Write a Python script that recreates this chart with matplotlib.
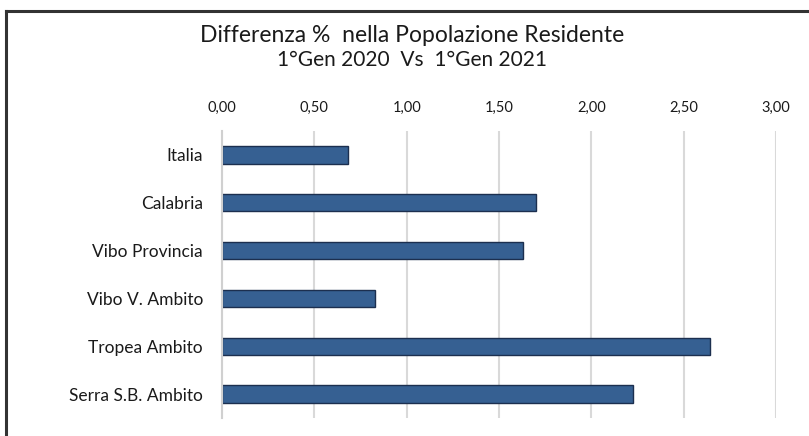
import matplotlib
matplotlib.use("Agg")
import matplotlib.pyplot as plt
from matplotlib.lines import Line2D

categories = ["Italia", "Calabria", "Vibo Provincia", "Vibo V. Ambito",
              "Tropea Ambito", "Serra S.B. Ambito"]
values = [0.68, 1.70, 1.63, 0.83, 2.64, 2.225]
xticks = [0.0, 0.5, 1.0, 1.5, 2.0, 2.5, 3.0]
xtick_labels = ["0,00", "0,50", "1,00", "1,50", "2,00", "2,50", "3,00"]
title_lines = ["Differenza %  nella Popolazione Residente", "1°Gen 2020  Vs  1°Gen 2021"]

plt.rcParams['font.family'] = ['Lato', 'DejaVu Sans']

W, H = 809, 436
fig = plt.figure(figsize=(W / 100, H / 100), dpi=100)
fig.patch.set_facecolor("white")

ax = fig.add_axes([222 / W, 1 - 418 / H, (776 - 222) / W, (418 - 131) / H])
ypos = list(range(len(categories)))
ax.barh(ypos, values, height=0.365, color="#366092", edgecolor="#1c2f4f", linewidth=1.0, zorder=3)
ax.set_ylim(len(categories) - 0.5, -0.5)
ax.set_xlim(0, 3.0)
ax.set_yticks(ypos)
ax.set_yticklabels(categories, fontsize=12.5, color="#1a1a1a")
ax.set_xticks(xticks)
ax.set_xticklabels(xtick_labels, fontsize=10.5, color="#1a1a1a")
ax.xaxis.tick_top()
ax.tick_params(axis="x", length=0, pad=11.5)
ax.tick_params(axis="y", length=0, pad=13.7)
ax.grid(axis="x", color="#d9d9d9", linewidth=1.5, zorder=0)
for s in ["top", "right", "bottom"]:
    ax.spines[s].set_visible(False)
ax.spines["left"].set_color("#d0d0d0")
ax.spines["left"].set_linewidth(1.5)
ax.spines["left"].set_zorder(4)

fig.text(412 / W, 1 - 42 / H, title_lines[0], ha="center", va="baseline", fontsize=16.5, color="#1a1a1a")
fig.text(412 / W, 1 - 66 / H, title_lines[1], ha="center", va="baseline", fontsize=15, color="#1a1a1a")

# outer frame (left and top edges)
fig.add_artist(Line2D([6 / W, 6 / W], [0, 1 - 11 / H], color="#333333", linewidth=2.2, transform=fig.transFigure))
fig.add_artist(Line2D([6 / W, 1], [1 - 11 / H, 1 - 11 / H], color="#333333", linewidth=2.2, transform=fig.transFigure))

fig.savefig("out.png", dpi=100)
